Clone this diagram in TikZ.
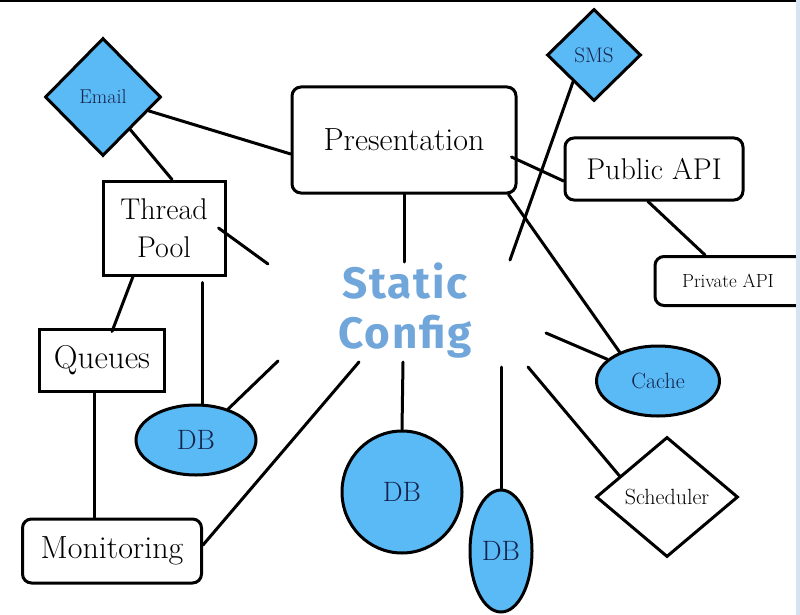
\documentclass[tikz,border=0pt]{standalone}
\usepackage{fontspec}
\newfontfamily\configfont{Fira Sans}[LetterSpace=4]
\usetikzlibrary{shapes.geometric}

\definecolor{dbblue}{RGB}{90,186,245}
\definecolor{configblue}{RGB}{112,166,218}
\definecolor{labelnavy}{RGB}{20,35,75}
\definecolor{edgestrip}{RGB}{214,227,240}

\newcommand{\labelbig}{\fontsize{32}{38}\selectfont}
\newcommand{\labelmid}{\fontsize{28}{32}\selectfont}
\newcommand{\labelsmall}{\fontsize{21}{24}\selectfont}

\tikzset{
  line/.style={line width=3pt, line cap=round},
  box/.style={draw, line width=3pt, inner sep=0pt, fill=white},
  rbox/.style={box, rounded corners=9pt},
  dbnode/.style={ellipse, draw, line width=3pt, fill=dbblue, inner sep=0pt, text=labelnavy},
  gem/.style={diamond, draw, line width=3pt, inner sep=0pt},
}

\begin{document}
\begin{tikzpicture}[x=1pt, y=-1pt]

\useasboundingbox (0, 0) rectangle (800, 615);
\fill[white] (0, 0) rectangle (800, 615);

\node[gem, fill=dbblue, text=labelnavy, minimum width=116, minimum height=118, font=\fontsize{20}{24}\selectfont] (email) at (103, 97) {Email};
\node[gem, fill=dbblue, text=labelnavy, minimum width=94, minimum height=92, font=\labelsmall] (sms) at (594, 55) {SMS};
\node[gem, fill=white, minimum width=142, minimum height=120, font=\fontsize{22}{24}\selectfont] (sched) at (667, 497) {Scheduler};

\node[rbox, minimum width=224, minimum height=106, font=\labelbig] (pres) at (404, 140) {Presentation};
\node[rbox, minimum width=178, minimum height=62, font=\fontsize{30}{36}\selectfont] (pubapi) at (654, 169) {Public API};
\node[rbox, minimum width=160, minimum height=49, font=\fontsize{19}{22}\selectfont] (privapi) at (735, 281) {Private API\hspace*{14pt}};
\node[box, minimum width=122, minimum height=94, align=center, font=\fontsize{30}{38}\selectfont] (pool) at (164, 228) {Thread\\Pool};
\node[box, minimum width=125, minimum height=62, font=\fontsize{33}{38}\selectfont] (queues) at (102, 360) {Queues};
\node[rbox, minimum width=179, minimum height=64, font=\labelbig] (monitor) at (112, 551) {Monitoring};

\node[dbnode, minimum width=120, minimum height=70, font=\labelmid] (dbleft) at (196, 440) {DB};
\node[dbnode, minimum width=120, minimum height=122, font=\labelmid] (dbmid) at (402, 492) {DB};
\node[dbnode, minimum width=62, minimum height=122, font=\labelmid] (dbright) at (501, 551) {DB};
\node[dbnode, minimum width=123, minimum height=70, font=\fontsize{22}{24}\selectfont] (cache) at (658, 381) {Cache};

\node[text=configblue, align=center, font=\configfont\bfseries\fontsize{44}{50}\selectfont] (config) at (405, 311) {Static\\Config};

% loose ends round the config
\coordinate (poolend) at (268, 264);
\coordinate (dbend) at (278, 361);
\coordinate (monend) at (359, 362);
\coordinate (presend) at (404, 262);
\coordinate (midend) at (403, 362);
\coordinate (smsend) at (510, 260);
\coordinate (cacheend) at (546, 333);
\coordinate (schedend) at (528, 367);
\coordinate (rightend) at (501, 367);

\draw[line] (pres.187) -- (email);
\draw[line] (email) -- ([xshift=8pt]pool.north);
\draw[line] ([xshift=-8pt]pool.east) -- (poolend);
\draw[line] ([xshift=-31pt]pool.south) -- ([xshift=10pt,yshift=-4pt]queues.north);
\draw[line] ([xshift=38pt,yshift=-6pt]pool.south) -- ([xshift=38pt]pool.south |- dbleft.north);
\draw[line] (dbleft) -- (dbend);
\draw[line] (monend) -- ([yshift=6pt]monitor.east);
\draw[line] ([xshift=-8pt]queues.south) -- ([xshift=-8pt]queues.south |- monitor.north);
\draw[line] (pres.south) -- (presend);
\draw[line] (midend) -- (dbmid.north);
\draw[line] (sms.232) -- (smsend);
\draw[line] ([xshift=-6pt,yshift=-17pt]pres.east) -- ([yshift=-12pt]pubapi.west);
\draw[line] ([xshift=-9pt]pres.south east) -- (cache.143);
\draw[line] ([xshift=-6pt]pubapi.south) -- ([xshift=-30pt]privapi.north);
\draw[line] (cacheend) -- (cache);
\draw[line] (schedend) -- (sched.156);
\draw[line] (rightend) -- (dbright.north);

% frame edges of the shot
\fill (0, 0) rectangle (797, 2.5);
\fill[edgestrip] (796, 0) rectangle (800, 615);

\end{tikzpicture}
\end{document}
